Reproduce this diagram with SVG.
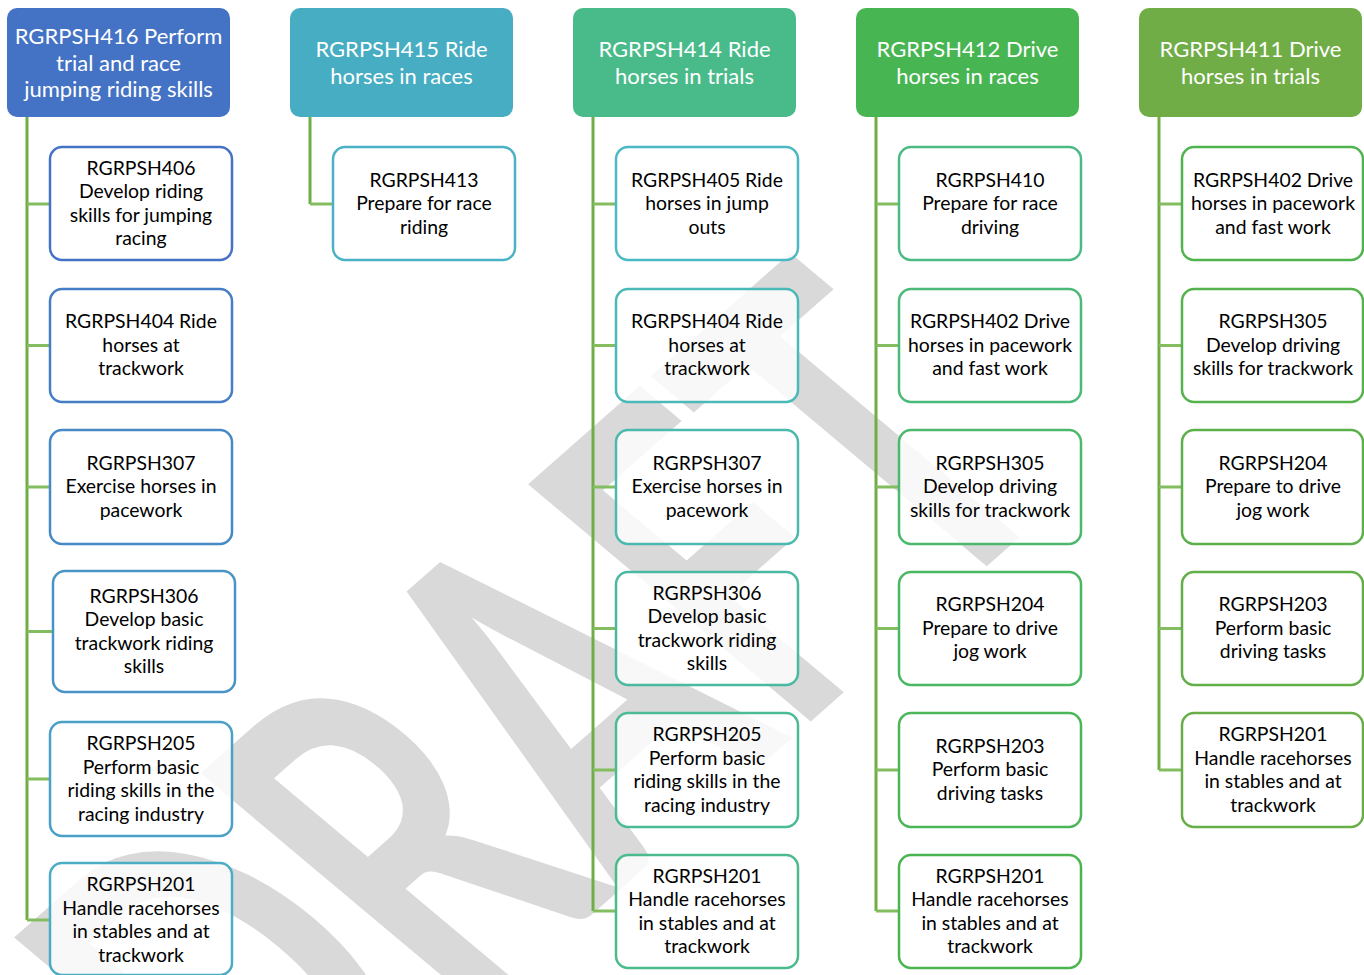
<svg xmlns="http://www.w3.org/2000/svg" width="1364" height="975" viewBox="0 0 1364 975">
<style>
.hdr{stroke:none}
.ht{font-family:Lato,"Liberation Sans",sans-serif;font-size:22px;fill:#ffffff;text-anchor:middle;dominant-baseline:central}
.box{fill:#ffffff;fill-opacity:0.82;stroke-width:2.5}
.bt{font-family:Lato,"Liberation Sans",sans-serif;font-size:19.4px;fill:#000000;text-anchor:middle;dominant-baseline:central}
.trunk{stroke:#70ad47;stroke-width:3;fill:none}
.br{stroke:#84bd60;stroke-width:3;fill:none}
.wm{font-family:Lato,"Liberation Sans",sans-serif;font-weight:bold;font-size:100px;fill:#d9d9d9}
</style>
<rect width="1364" height="975" fill="#ffffff"/>
<g id="watermark"><text class="wm" x="0" y="0" transform="matrix(2.45 -2.16 3.91 3.28 277 1192)">DRAFT</text></g>
<g id="connectors">
<path class="trunk" d="M27,117V920 M310,117V204 M593,117V911 M876,117V911 M1159,117V770"/>
<path class="br" d="M27,204H50 M27,345.5H50 M27,487H50 M27,631.5H53 M27,779H50 M27,920H50 M310,204H333 M593,204H616 M593,345.5H616 M593,487H616 M593,628.5H616 M593,770H616 M593,911H616 M876,204H899 M876,345.5H899 M876,487H899 M876,628.5H899 M876,770H899 M876,911H899 M1159,204H1182 M1159,345.5H1182 M1159,487H1182 M1159,628.5H1182 M1159,770H1182"/>
</g>
<g id="h416"><rect class="hdr" x="7" y="8" width="223" height="109" rx="10" fill="#4472c4"/><text class="ht" x="118.5" y="35.5">RGRPSH416 Perform</text><text class="ht" x="118.5" y="62">trial and race</text><text class="ht" x="118.5" y="88.5">jumping riding skills</text></g>
<g id="h415"><rect class="hdr" x="290" y="8" width="223" height="109" rx="10" fill="#47adc2"/><text class="ht" x="401.5" y="48.75">RGRPSH415 Ride</text><text class="ht" x="401.5" y="75.25">horses in races</text></g>
<g id="h414"><rect class="hdr" x="573" y="8" width="223" height="109" rx="10" fill="#49bb8b"/><text class="ht" x="684.5" y="48.75">RGRPSH414 Ride</text><text class="ht" x="684.5" y="75.25">horses in trials</text></g>
<g id="h412"><rect class="hdr" x="856" y="8" width="223" height="109" rx="10" fill="#48b553"/><text class="ht" x="967.5" y="48.75">RGRPSH412 Drive</text><text class="ht" x="967.5" y="75.25">horses in races</text></g>
<g id="h411"><rect class="hdr" x="1139" y="8" width="223" height="109" rx="10" fill="#70ad47"/><text class="ht" x="1250.5" y="48.75">RGRPSH411 Drive</text><text class="ht" x="1250.5" y="75.25">horses in trials</text></g>

<g id="c1n1"><rect class="box" x="50" y="147" width="182" height="113" rx="12" stroke="#4472c4"/><text class="bt" x="141" y="167">RGRPSH406</text><text class="bt" x="141" y="190.5">Develop riding</text><text class="bt" x="141" y="214">skills for jumping</text><text class="bt" x="141" y="237.5">racing</text></g>
<g id="c1n2"><rect class="box" x="50" y="289" width="182" height="113" rx="12" stroke="#457ec4"/><text class="bt" x="141" y="320.5">RGRPSH404 Ride</text><text class="bt" x="141" y="344">horses at</text><text class="bt" x="141" y="367.5">trackwork</text></g>
<g id="c1n3"><rect class="box" x="50" y="430" width="182" height="114" rx="12" stroke="#4789c5"/><text class="bt" x="141" y="462">RGRPSH307</text><text class="bt" x="141" y="485.5">Exercise horses in</text><text class="bt" x="141" y="509">pacework</text></g>
<g id="c1n4"><rect class="box" x="53" y="571" width="182" height="121" rx="12" stroke="#4895c5"/><text class="bt" x="144" y="595">RGRPSH306</text><text class="bt" x="144" y="618.5">Develop basic</text><text class="bt" x="144" y="642">trackwork riding</text><text class="bt" x="144" y="665.5">skills</text></g>
<g id="c1n5"><rect class="box" x="50" y="722" width="182" height="114" rx="12" stroke="#4aa0c6"/><text class="bt" x="141" y="742.5">RGRPSH205</text><text class="bt" x="141" y="766">Perform basic</text><text class="bt" x="141" y="789.5">riding skills in the</text><text class="bt" x="141" y="813">racing industry</text></g>
<g id="c1n6"><rect class="box" x="50" y="863" width="182" height="112" rx="12" stroke="#4bacc6"/><text class="bt" x="141" y="883.5">RGRPSH201</text><text class="bt" x="141" y="907">Handle racehorses</text><text class="bt" x="141" y="930.5">in stables and at</text><text class="bt" x="141" y="954">trackwork</text></g>

<g id="c2n1"><rect class="box" x="333" y="147" width="182" height="113" rx="12" stroke="#4bb1c6"/><text class="bt" x="424" y="179">RGRPSH413</text><text class="bt" x="424" y="202.5">Prepare for race</text><text class="bt" x="424" y="226">riding</text></g>

<g id="c3n1"><rect class="box" x="616" y="147" width="182" height="113" rx="12" stroke="#4bb9c3"/><text class="bt" x="707" y="179">RGRPSH405 Ride</text><text class="bt" x="707" y="202.5">horses in jump</text><text class="bt" x="707" y="226">outs</text></g>
<g id="c3n2"><rect class="box" x="616" y="289" width="182" height="113" rx="12" stroke="#4bb9b8"/><text class="bt" x="707" y="320.5">RGRPSH404 Ride</text><text class="bt" x="707" y="344">horses at</text><text class="bt" x="707" y="367.5">trackwork</text></g>
<g id="c3n3"><rect class="box" x="616" y="430" width="182" height="114" rx="12" stroke="#4bb9ad"/><text class="bt" x="707" y="462">RGRPSH307</text><text class="bt" x="707" y="485.5">Exercise horses in</text><text class="bt" x="707" y="509">pacework</text></g>
<g id="c3n4"><rect class="box" x="616" y="572" width="182" height="113" rx="12" stroke="#4bb9a2"/><text class="bt" x="707" y="592">RGRPSH306</text><text class="bt" x="707" y="615.5">Develop basic</text><text class="bt" x="707" y="639">trackwork riding</text><text class="bt" x="707" y="662.5">skills</text></g>
<g id="c3n5"><rect class="box" x="616" y="713" width="182" height="114" rx="12" stroke="#4bba97"/><text class="bt" x="707" y="733.5">RGRPSH205</text><text class="bt" x="707" y="757">Perform basic</text><text class="bt" x="707" y="780.5">riding skills in the</text><text class="bt" x="707" y="804">racing industry</text></g>
<g id="c3n6"><rect class="box" x="616" y="855" width="182" height="113" rx="12" stroke="#4bba8c"/><text class="bt" x="707" y="875">RGRPSH201</text><text class="bt" x="707" y="898.5">Handle racehorses</text><text class="bt" x="707" y="922">in stables and at</text><text class="bt" x="707" y="945.5">trackwork</text></g>

<g id="c4n1"><rect class="box" x="899" y="147" width="182" height="113" rx="12" stroke="#4bba83"/><text class="bt" x="990" y="179">RGRPSH410</text><text class="bt" x="990" y="202.5">Prepare for race</text><text class="bt" x="990" y="226">driving</text></g>
<g id="c4n2"><rect class="box" x="899" y="289" width="182" height="113" rx="12" stroke="#4bb978"/><text class="bt" x="990" y="320.5">RGRPSH402 Drive</text><text class="bt" x="990" y="344">horses in pacework</text><text class="bt" x="990" y="367.5">and fast work</text></g>
<g id="c4n3"><rect class="box" x="899" y="430" width="182" height="114" rx="12" stroke="#4bb86d"/><text class="bt" x="990" y="462">RGRPSH305</text><text class="bt" x="990" y="485.5">Develop driving</text><text class="bt" x="990" y="509">skills for trackwork</text></g>
<g id="c4n4"><rect class="box" x="899" y="572" width="182" height="113" rx="12" stroke="#4ab763"/><text class="bt" x="990" y="603.5">RGRPSH204</text><text class="bt" x="990" y="627">Prepare to drive</text><text class="bt" x="990" y="650.5">jog work</text></g>
<g id="c4n5"><rect class="box" x="899" y="713" width="182" height="114" rx="12" stroke="#4ab658"/><text class="bt" x="990" y="745">RGRPSH203</text><text class="bt" x="990" y="768.5">Perform basic</text><text class="bt" x="990" y="792">driving tasks</text></g>
<g id="c4n6"><rect class="box" x="899" y="855" width="182" height="113" rx="12" stroke="#4ab54e"/><text class="bt" x="990" y="875">RGRPSH201</text><text class="bt" x="990" y="898.5">Handle racehorses</text><text class="bt" x="990" y="922">in stables and at</text><text class="bt" x="990" y="945.5">trackwork</text></g>

<g id="c5n1"><rect class="box" x="1182" y="147" width="181" height="113" rx="12" stroke="#50b44e"/><text class="bt" x="1273" y="179">RGRPSH402 Drive</text><text class="bt" x="1273" y="202.5">horses in pacework</text><text class="bt" x="1273" y="226">and fast work</text></g>
<g id="c5n2"><rect class="box" x="1182" y="289" width="181" height="113" rx="12" stroke="#56b24c"/><text class="bt" x="1273" y="320.5">RGRPSH305</text><text class="bt" x="1273" y="344">Develop driving</text><text class="bt" x="1273" y="367.5">skills for trackwork</text></g>
<g id="c5n3"><rect class="box" x="1182" y="430" width="181" height="114" rx="12" stroke="#5cb04a"/><text class="bt" x="1273" y="462">RGRPSH204</text><text class="bt" x="1273" y="485.5">Prepare to drive</text><text class="bt" x="1273" y="509">jog work</text></g>
<g id="c5n4"><rect class="box" x="1182" y="572" width="181" height="113" rx="12" stroke="#62af49"/><text class="bt" x="1273" y="603.5">RGRPSH203</text><text class="bt" x="1273" y="627">Perform basic</text><text class="bt" x="1273" y="650.5">driving tasks</text></g>
<g id="c5n5"><rect class="box" x="1182" y="713" width="181" height="114" rx="12" stroke="#68ae48"/><text class="bt" x="1273" y="733.5">RGRPSH201</text><text class="bt" x="1273" y="757">Handle racehorses</text><text class="bt" x="1273" y="780.5">in stables and at</text><text class="bt" x="1273" y="804">trackwork</text></g>
</svg>
